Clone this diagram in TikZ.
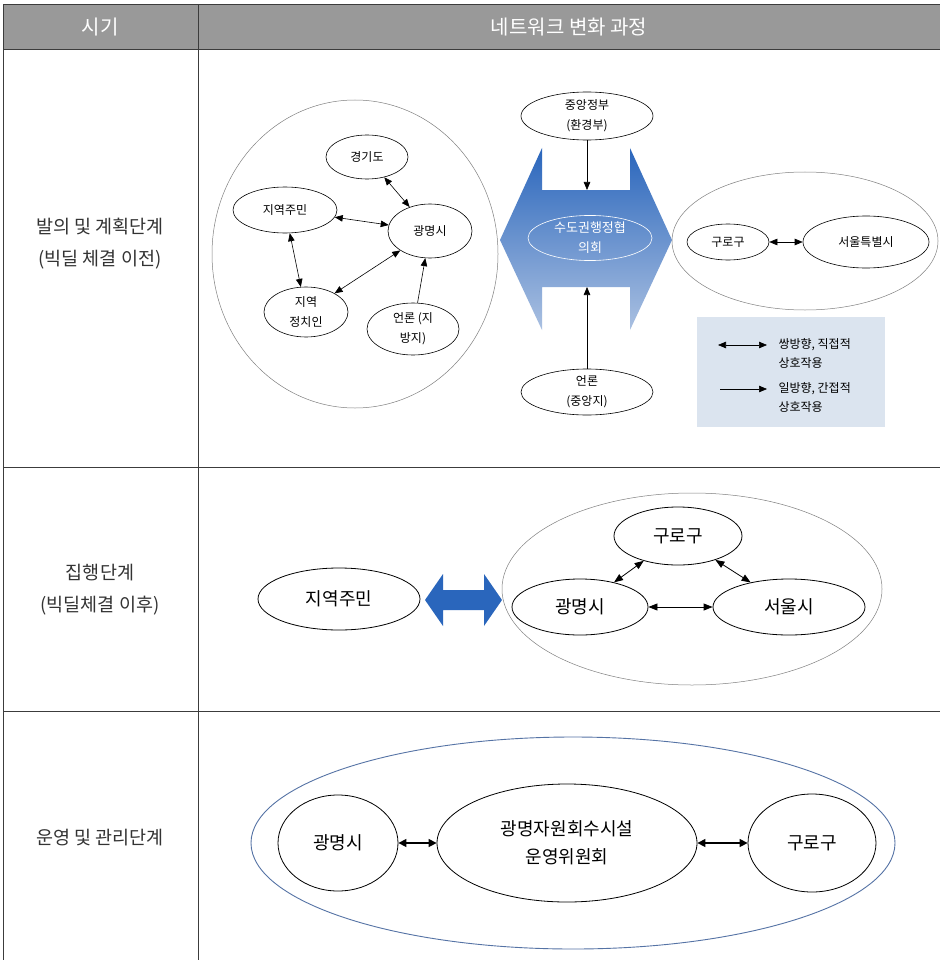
\documentclass[tikz,border=0pt]{standalone}
\usepackage{fontspec}
\setmainfont{Noto Sans CJK KR}
\usetikzlibrary{arrows.meta,shapes.geometric}

\definecolor{headgrey}{RGB}{153,153,153}
\definecolor{rulegrey}{RGB}{60,60,60}
\definecolor{arrowblue}{RGB}{42,102,188}
\definecolor{paleblue}{RGB}{170,192,225}
\definecolor{legendfill}{RGB}{219,228,239}
\definecolor{ringblue}{RGB}{85,115,165}
\newcommand{\fsize}[2]{\fontsize{#1}{#2}\selectfont}

\begin{document}
\begin{tikzpicture}[x=1pt,y=-1pt,>={Triangle[length=8pt,width=6.5pt]},
    actor/.style={ellipse,draw,line width=0.6pt,inner sep=0pt,align=center},
    small actor/.style={actor,font=\fsize{12}{20}},
    big actor/.style={actor,line width=0.8pt,font=\fsize{18}{28}},
    ring/.style={ellipse,draw=gray,line width=0.5pt,inner sep=0pt},
    link/.style={<->,line width=0.6pt},
    stage/.style={align=center,text=black!80,font=\fsize{18.5}{32}}]

  \useasboundingbox[fill=white] (0,0) rectangle (940,960);

  % table
  \fill[headgrey] (3,5) rectangle (940,50);
  \draw[rulegrey,line width=1pt] (3,5) -- (940,5) (3,50) -- (940,50)
       (3,467) -- (940,467) (3,711) -- (940,711)
       (3,5) -- (3,960) (198,5) -- (198,960);

  \node[text=white,font=\fsize{20}{24}] (h1) at (100,27) {시기};
  \node[text=white,font=\fsize{20}{24}] (h2) at (569,27) {네트워크 변화 과정};

  \node[stage] (s1) at (100,244) {발의 및 계획단계\\(빅딜 체결 이전)};
  \node[stage] (s2) at (100,590) {집행단계\\(빅딜체결 이후)};
  \node[stage] (s3) at (100,838) {운영 및 관리단계};

  % row 1
  \node[ring,minimum width=286,minimum height=308] (local) at (355,254) {};
  \node[small actor,minimum width=82,minimum height=44] (gg) at (367,157) {경기도};
  \node[small actor,minimum width=104,minimum height=46] (res1) at (285,210) {지역주민};
  \node[small actor,minimum width=84,minimum height=54] (gm1) at (430,231) {광명시};
  \node[small actor,minimum width=84,minimum height=50] (pol) at (306,312) {지역\\정치인};
  \node[small actor,minimum width=92,minimum height=52] (lpress) at (413,329) {언론 (지\\방지)};

  \draw[link] (gg) -- (gm1);
  \draw[link] (res1) -- (gm1);
  \draw[link] (res1) -- (pol);
  \draw[link] (pol) -- (gm1);
  \draw[->,line width=0.6pt] (lpress) -- (gm1);

  \shade[top color=arrowblue,middle color=arrowblue!94!white,bottom color=paleblue]
    (500,240) -- (542,148) -- (542,190) -- (630,190) -- (630,148) -- (672,240)
    -- (630,330) -- (630,287) -- (542,287) -- (542,330) -- cycle;
  \coordinate (notchtop) at (587,190);
  \coordinate (notchbot) at (587,287);
  \node[actor,draw=white,text=white,font=\fsize{13}{20},
        minimum width=124,minimum height=44] (council) at (590,238) {수도권행정협\\의회};

  \node[small actor,minimum width=132,minimum height=48] (gov) at (587,116) {중앙정부\\(환경부)};
  \node[small actor,minimum width=132,minimum height=46] (npress) at (587,392) {언론\\(중앙지)};
  \draw[->,line width=0.6pt] (gov) -- (notchtop);
  \draw[->,line width=0.6pt] (npress) -- (notchbot);

  \node[ring,minimum width=266,minimum height=138] (seoulside) at (805,241) {};
  \node[small actor,minimum width=82,minimum height=36] (guro1) at (728,242) {구로구};
  \node[small actor,minimum width=126,minimum height=52] (seoul1) at (866,242) {서울특별시};
  \draw[link] (guro1) -- (seoul1);

  % legend
  \fill[legendfill] (697,317) rectangle (885,427);
  \coordinate (k1) at (718,345);
  \coordinate (k2) at (767,345);
  \coordinate (k3) at (720,389);
  \coordinate (k4) at (767,389);
  \draw[link] (k1) -- (k2);
  \draw[->,line width=0.6pt] (k3) -- (k4);
  \node[anchor=west,align=left,font=\fsize{12}{19}] (both) at (775,353) {쌍방향, 직접적\\상호작용};
  \node[anchor=west,align=left,font=\fsize{12}{19}] (one) at (775,397) {일방향, 간접적\\상호작용};

  % row 2
  \node[big actor,minimum width=162,minimum height=62] (res2) at (339,599) {지역주민};
  \fill[arrowblue] (425,600) -- (443,574) -- (443,590) -- (484,590) -- (484,574)
    -- (502,600) -- (484,626) -- (484,610) -- (443,610) -- (443,626) -- cycle;

  \node[ring,minimum width=380,minimum height=192] (cityside) at (692,589) {};
  \node[big actor,minimum width=128,minimum height=58] (guro2) at (678,536) {구로구};
  \node[big actor,minimum width=136,minimum height=56] (gm2) at (580,607) {광명시};
  \node[big actor,minimum width=152,minimum height=56] (seoul2) at (789,607) {서울시};
  \draw[link,line width=0.8pt,>={Triangle[length=9pt,width=7pt]}] (gm2) -- (guro2);
  \draw[link,line width=0.8pt,>={Triangle[length=9pt,width=7pt]}] (guro2) -- (seoul2);
  \draw[link,line width=0.8pt,>={Triangle[length=9pt,width=7pt]}] (gm2) -- (seoul2);

  % row 3
  \node[ellipse,draw=ringblue,line width=0.9pt,inner sep=0pt,
        minimum width=644,minimum height=212] (board) at (573,843) {};
  \node[big actor,minimum width=120,minimum height=96] (gm3) at (338,843) {광명시};
  \node[big actor,minimum width=260,minimum height=118] (comm) at (567,843) {광명자원회수시설\\운영위원회};
  \node[big actor,minimum width=128,minimum height=98] (guro3) at (812,843) {구로구};
  \draw[link,line width=1.4pt,>={Triangle[length=8pt,width=8pt]}] (gm3) -- (comm);
  \draw[link,line width=1.4pt,>={Triangle[length=8pt,width=8pt]}] (comm) -- (guro3);

\end{tikzpicture}
\end{document}
